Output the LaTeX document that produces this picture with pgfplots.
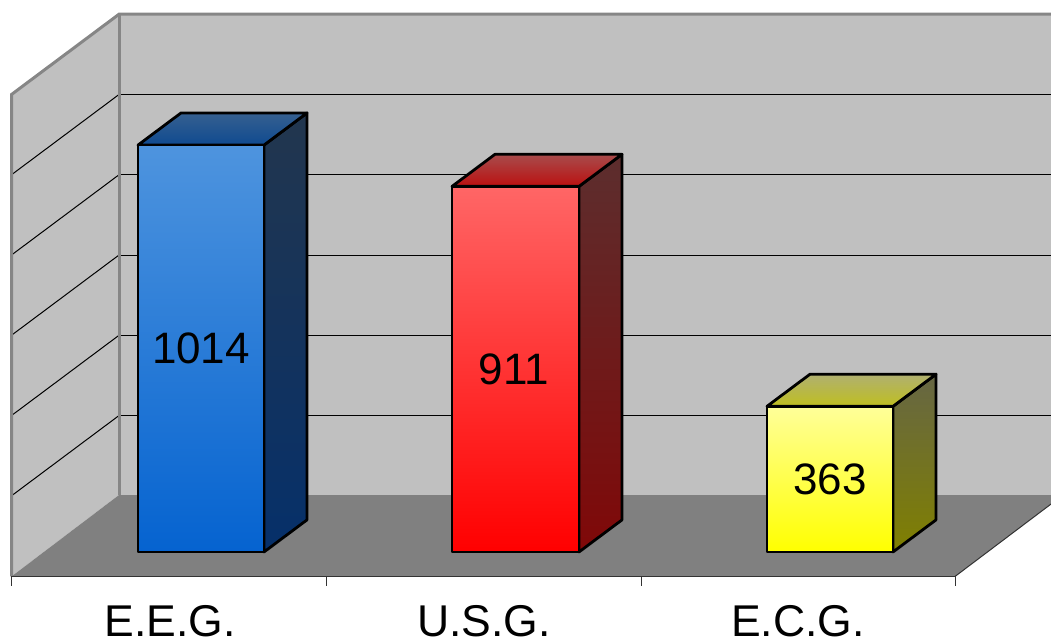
\documentclass[border=0pt]{standalone}
\usepackage{pgfplots}
\pgfplotsset{compat=1.18}
\usepackage{fontspec}
\setmainfont{Liberation Sans}

% colours of the walls and the three bars
\definecolor{wallgrey}{HTML}{C0C0C0}
\definecolor{floorgrey}{HTML}{808080}
\definecolor{edgegrey}{HTML}{868686}
\definecolor{axisdark}{HTML}{333333}
\definecolor{blueSideTop}{HTML}{22364E}
\definecolor{blueSideBot}{HTML}{06306A}
\definecolor{blueCapBack}{HTML}{366090}
\definecolor{blueCapFront}{HTML}{0F4A90}
\definecolor{blueFrontTop}{HTML}{4E94DE}
\definecolor{blueFrontBot}{HTML}{0563D0}
\definecolor{redSideTop}{HTML}{5C2E2E}
\definecolor{redSideBot}{HTML}{800808}
\definecolor{redCapBack}{HTML}{A84C4C}
\definecolor{redCapFront}{HTML}{BB1010}
\definecolor{redFrontTop}{HTML}{FF6666}
\definecolor{redFrontBot}{HTML}{FF0000}
\definecolor{yelSideTop}{HTML}{666644}
\definecolor{yelSideBot}{HTML}{808000}
\definecolor{yelCapBack}{HTML}{B0B070}
\definecolor{yelCapFront}{HTML}{BFBF20}
\definecolor{yelFrontTop}{HTML}{FFFF99}
\definecolor{yelFrontBot}{HTML}{FFFF00}

\pgfplotsset{
  wall/.style={draw=none,fill=wallgrey,mark=none,forget plot},
  edge/.style={draw=edgegrey,line width=3pt,mark=none,forget plot},
  grid line/.style={draw=black,line width=1pt,mark=none,forget plot},
  tick line/.style={draw=axisdark,line width=1pt,mark=none,forget plot},
  face/.style 2 args={draw=black,line width=2.8pt,line join=round,top color=#1,bottom color=#2,mark=none,forget plot},
}
\newcommand{\valuelabel}{\fontsize{44}{50}\selectfont}
\newcommand{\catlabel}{\fontsize{44.5}{50}\selectfont}

\begin{document}
\begin{tikzpicture}
\begin{axis}[
  width=1051pt,height=641pt,scale only axis,
  hide axis,
  xmin=0,xmax=1051,
  ymin=-221.8,ymax=1375.5,
]
% corners of the plotting area, kept for the picture's extent
\coordinate (areaSW) at (axis cs:0,-221.8);
\coordinate (areaNE) at (axis cs:1051,1375.5);

% back wall, side wall and floor
\addplot[wall] coordinates {(119,142)(1063,142)(1063,1340)(119,1340)} --cycle;
\addplot[wall] coordinates {(11.5,-61)(119,142)(119,1340)(11.5,1140)} --cycle;
\addplot[draw=none,fill=floorgrey,mark=none,forget plot] coordinates {(11.5,-61)(119,142)(1063,142)(955,-61)} --cycle;

% gridlines on the back wall, every 200 units
\addplot[grid line] coordinates {(119,340)(1051,340)};
\addplot[grid line] coordinates {(119,540)(1051,540)};
\addplot[grid line] coordinates {(119,740)(1051,740)};
\addplot[grid line] coordinates {(119,940)(1051,940)};
\addplot[grid line] coordinates {(119,1140)(1051,1140)};
% the same gridlines carried across the side wall
\addplot[grid line] coordinates {(119,340)(11.5,140)};
\addplot[grid line] coordinates {(119,540)(11.5,340)};
\addplot[grid line] coordinates {(119,740)(11.5,540)};
\addplot[grid line] coordinates {(119,940)(11.5,740)};
\addplot[grid line] coordinates {(119,1140)(11.5,940)};

% wall outlines
\addplot[edge] coordinates {(11.5,-61)(11.5,1140)(119,1340)(1051,1340)};
\addplot[edge] coordinates {(119,1340)(119,142)};

% front and right edges of the floor, with the category ticks
\addplot[draw=axisdark,line width=1.5pt,mark=none,forget plot] coordinates {(11.5,-61)(955,-61)};
\addplot[tick line] coordinates {(955,-61)(1063,142)};
\addplot[tick line] coordinates {(11.5,-61)(11.5,-85)};
\addplot[tick line] coordinates {(326,-61)(326,-85)};
\addplot[tick line] coordinates {(641,-61)(641,-85)};
\addplot[tick line] coordinates {(955,-61)(955,-85)};

% E.E.G., value 1014
\addplot[face={blueSideTop}{blueSideBot}] coordinates {(264,0)(307,80)(307,1094)(264,1014)} --cycle;
\addplot[face={blueCapBack}{blueCapFront}] coordinates {(138,1014)(264,1014)(307,1094)(181,1094)} --cycle;
\addplot[face={blueFrontTop}{blueFrontBot}] coordinates {(138,0)(264,0)(264,1014)(138,1014)} --cycle;

% U.S.G., value 911
\addplot[face={redSideTop}{redSideBot}] coordinates {(579,0)(622,80)(622,991)(579,911)} --cycle;
\addplot[face={redCapBack}{redCapFront}] coordinates {(452,911)(579,911)(622,991)(495,991)} --cycle;
\addplot[face={redFrontTop}{redFrontBot}] coordinates {(452,0)(579,0)(579,911)(452,911)} --cycle;

% E.C.G., value 363
\addplot[face={yelSideTop}{yelSideBot}] coordinates {(893,0)(936,80)(936,443)(893,363)} --cycle;
\addplot[face={yelCapBack}{yelCapFront}] coordinates {(767,363)(893,363)(936,443)(810,443)} --cycle;
\addplot[face={yelFrontTop}{yelFrontBot}] coordinates {(767,0)(893,0)(893,363)(767,363)} --cycle;

% value labels in the middle of each front face
\node[inner sep=0pt,anchor=center] at (axis cs:201,507) {\valuelabel 1014};
\node[inner sep=0pt,anchor=center] at (axis cs:514,455.5) {\valuelabel 911};
\node[inner sep=0pt,anchor=center] at (axis cs:830,181.5) {\valuelabel 363};

% category labels
\node[inner sep=0pt,anchor=base] at (axis cs:170,-211) {\catlabel E.E.G.};
\node[inner sep=0pt,anchor=base] at (axis cs:484,-211) {\catlabel U.S.G.};
\node[inner sep=0pt,anchor=base] at (axis cs:798,-211) {\catlabel E.C.G.};
\end{axis}
\path (areaSW) rectangle (areaNE);
\end{tikzpicture}
\end{document}
